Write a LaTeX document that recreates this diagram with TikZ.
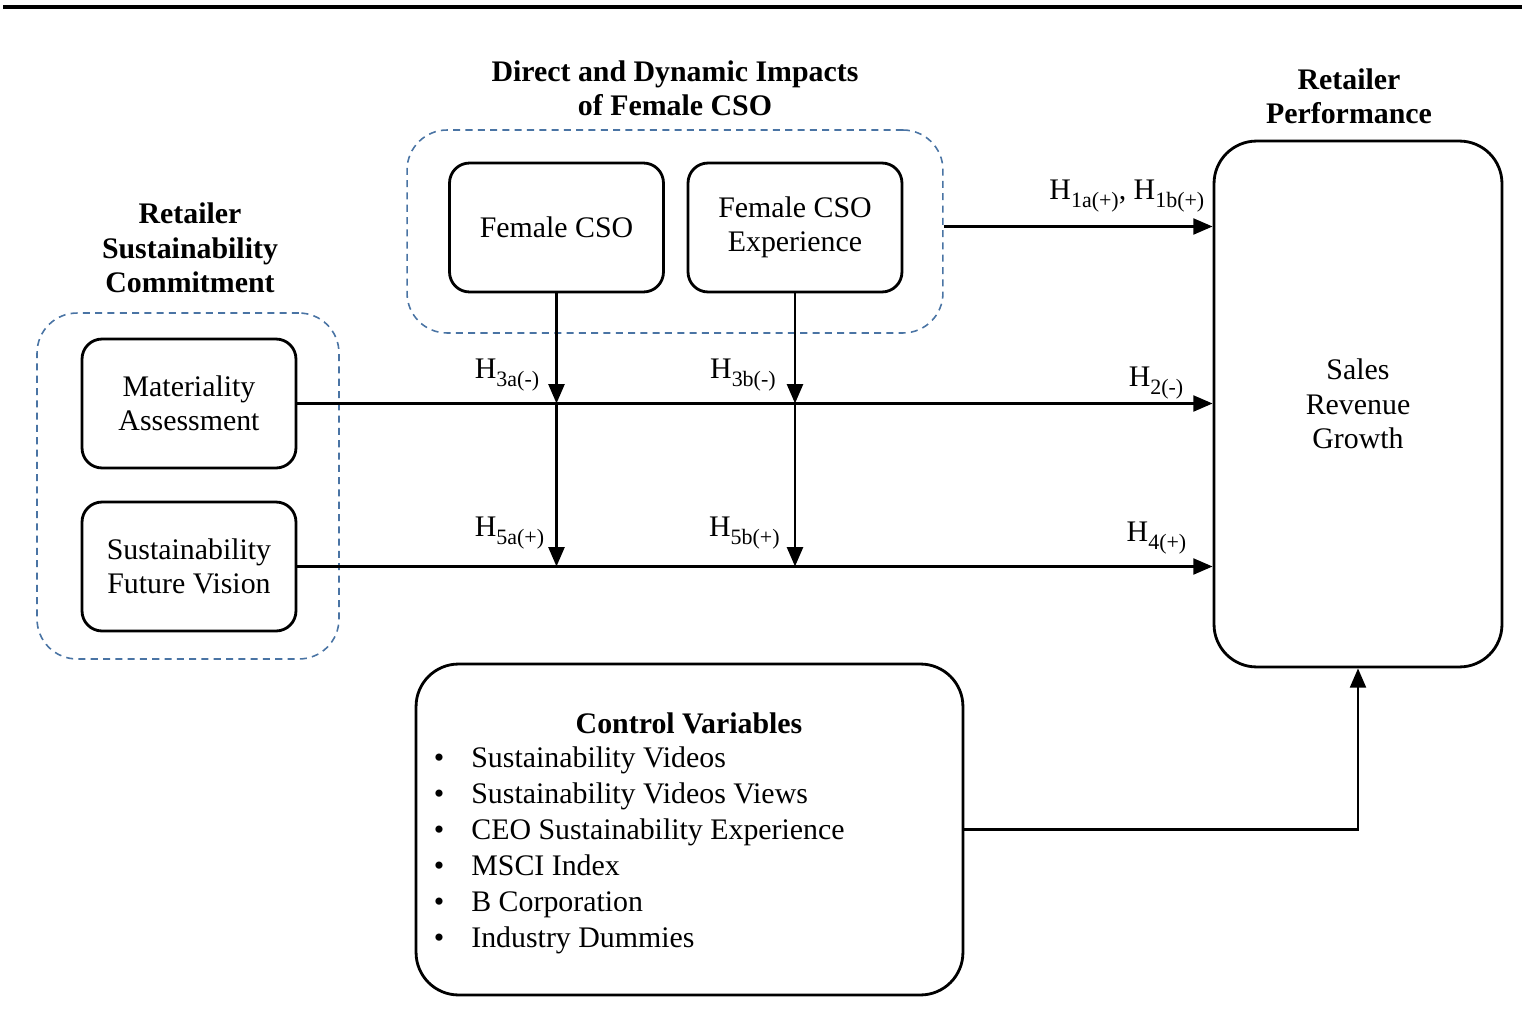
\documentclass[tikz,border=0pt]{standalone}
\usepackage{fontspec}
\setmainfont{Liberation Serif}
\usetikzlibrary{arrows.meta,positioning,calc}
\definecolor{grpblue}{RGB}{74,116,164}
\newcommand{\hyp}[1]{H\raisebox{-0.28em}{\fontsize{12.5}{12}\selectfont #1}}

\begin{document}
\begin{tikzpicture}[
    x=0.02cm, y=-0.02cm,
    >={Triangle[length=11pt,width=9pt]},
    every node/.style={font=\fontsize{17}{19.5}\selectfont},
    varbox/.style={draw, line width=1.6pt, rounded corners=0.4cm,
                   minimum width=4.28cm, minimum height=2.58cm, align=center},
    bigbox/.style={draw, line width=1.6pt, rounded corners=0.85cm},
    grp/.style={draw=grpblue, line width=0.9pt, dash pattern=on 4pt off 3pt,
                rounded corners=0.8cm},
    ttl/.style={font=\fontsize{17}{19.5}\selectfont\bfseries, align=center},
    lbl/.style={inner sep=0pt, anchor=base east},
    link/.style={->, line width=1.6pt}
  ]
  \useasboundingbox (0,0) rectangle (1522,1024);
  \draw[line width=2.3pt] (3,7) -- (1522,7);

  % groups
  \node[grp, minimum width=10.72cm, minimum height=4.06cm] (gfem) at (675,231.5) {};
  \node[grp, minimum width=6.04cm, minimum height=6.92cm] (gsus) at (188,486) {};

  % variables
  \node[varbox] (fcso) at (556.5,227.5) {Female CSO};
  \node[varbox] (fexp) at (795,227.5) {Female CSO\\Experience};
  \node[varbox] (mat) at (189,403.5) {Materiality\\Assessment};
  \node[varbox] (vis) at (189,566.5) {Sustainability\\Future Vision};
  \node[bigbox, minimum width=5.76cm, minimum height=10.52cm, align=center] (perf)
    at (1358,404) {Sales\\Revenue\\Growth};
  \node[bigbox, minimum width=10.94cm, minimum height=6.62cm] (ctrl) at (689.5,829.5) {};

  % titles
  \node[ttl] (tfem) at (675,88) {Direct and Dynamic Impacts\\of Female CSO};
  \node[ttl] (tsus) at (190,248) {Retailer\\Sustainability\\Commitment};
  \node[ttl] (tperf) at (1349,96) {Retailer\\Performance};

  % controls
  \node[ttl, anchor=base] (ctitle) at (689,733) {Control Variables};
  \foreach \cv [count=\i] in {Sustainability Videos, Sustainability Videos Views,
      CEO Sustainability Experience, MSCI Index, B Corporation, Industry Dummies} {
    \node[anchor=base, inner sep=0pt] (cb\i) at (439,{767+36*(\i-1)}) {\textbullet};
    \node[anchor=base west, inner sep=0pt] (cv\i) at (471,{767+36*(\i-1)}) {\cv};
  }

  % paths
  \coordinate (ja) at (fcso.south |- mat.east);
  \coordinate (jb) at (fexp.south |- mat.east);
  \coordinate (ka) at (fcso.south |- vis.east);
  \coordinate (kb) at (fexp.south |- vis.east);
  \draw[link] ([yshift=0.1cm]gfem.east) -- ([yshift=0.1cm]gfem.east -| perf.west);
  \draw[link] (mat.east) -- (mat.east -| perf.west);
  \draw[link] (vis.east) -- (vis.east -| perf.west);
  \draw[link] (fcso.south) -- (ja);
  \draw[link] (ja) -- (ka);
  \draw[link] (fexp.south) -- (jb);
  \draw[link] (jb) -- (kb);
  \draw[link] (ctrl.east) -| (perf.south);

  % hypotheses
  \node[lbl] (h1) at ($(perf.west |- gfem.east)+(-8,-32)$) {\hyp{1a(+)}, \hyp{1b(+)}};
  \node[lbl] (h2) at ($(mat.east -| perf.west)+(-29,-17)$) {\hyp{2(-)}};
  \node[lbl] (h4) at ($(vis.east -| perf.west)+(-26,-25)$) {\hyp{4(+)}};
  \node[lbl] (h3a) at ($(ja)+(-17,-25)$) {\hyp{3a(-)}};
  \node[lbl] (h3b) at ($(jb)+(-19,-25)$) {\hyp{3b(-)}};
  \node[lbl] (h5a) at ($(ka)+(-12,-30)$) {\hyp{5a(+)}};
  \node[lbl] (h5b) at ($(kb)+(-15,-30)$) {\hyp{5b(+)}};
\end{tikzpicture}
\end{document}
